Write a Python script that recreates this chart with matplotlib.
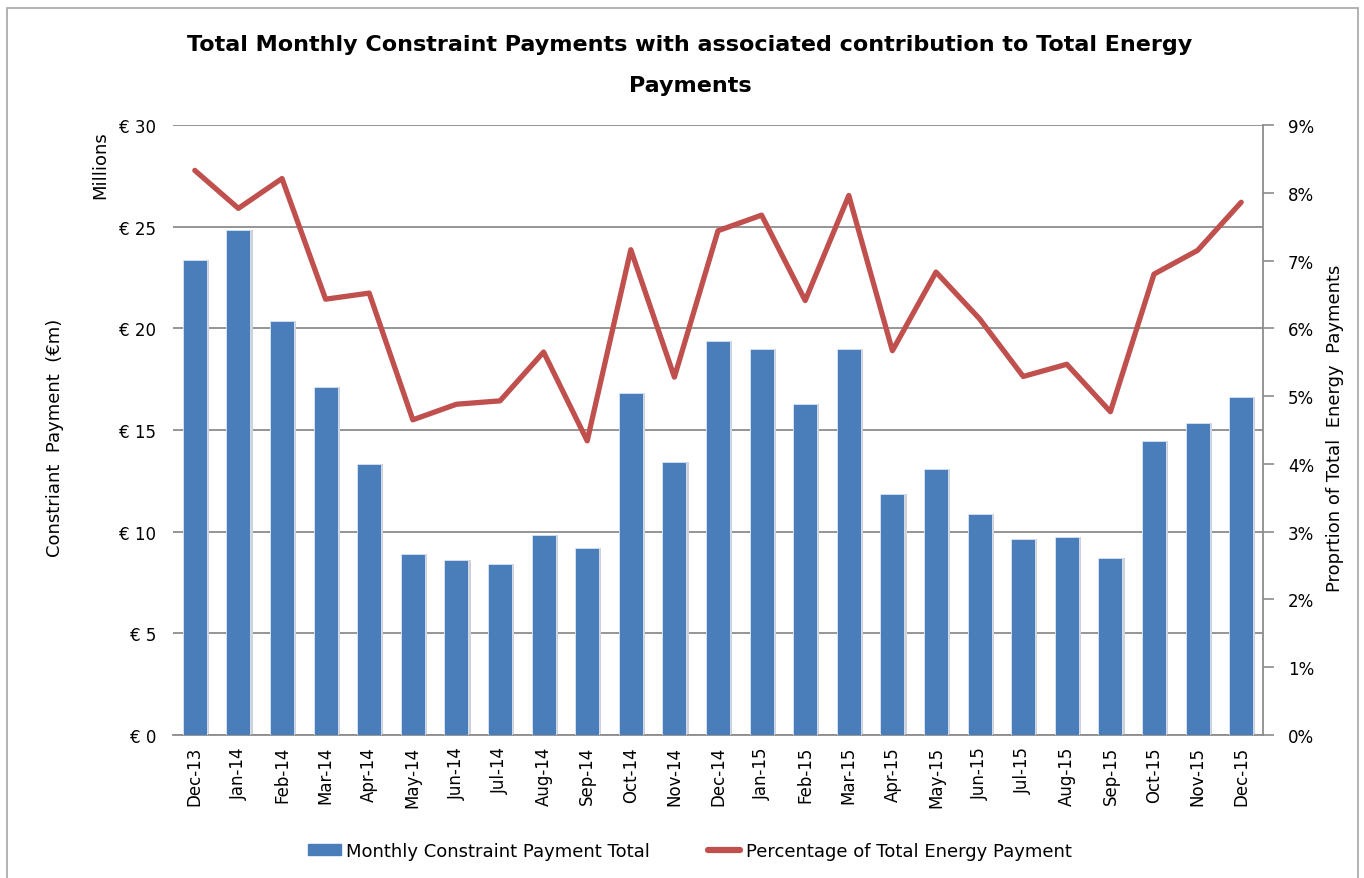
import matplotlib
matplotlib.use("Agg")
import matplotlib.pyplot as plt
import matplotlib.patches as mpatches
from matplotlib.lines import Line2D
import numpy as np

# Data
months = ["Dec-13", "Jan-14", "Feb-14", "Mar-14", "Apr-14", "May-14", "Jun-14",
          "Jul-14", "Aug-14", "Sep-14", "Oct-14", "Nov-14", "Dec-14", "Jan-15",
          "Feb-15", "Mar-15", "Apr-15", "May-15", "Jun-15", "Jul-15", "Aug-15",
          "Sep-15", "Oct-15", "Nov-15", "Dec-15"]
payments = [23.34, 24.85, 20.34, 17.11, 13.34, 8.91, 8.61, 8.43, 9.84, 9.19,
            16.83, 13.43, 19.39, 19.0, 16.26, 19.0, 11.83, 13.06, 10.88, 9.65,
            9.74, 8.70, 14.47, 15.34, 16.63]
pct_energy = [8.33, 7.77, 8.21, 6.43, 6.52, 4.65, 4.88, 4.93, 5.65, 4.34,
              7.16, 5.28, 7.44, 7.67, 6.41, 7.96, 5.67, 6.83, 6.14, 5.29,
              5.47, 4.77, 6.80, 7.15, 7.86]
left_ticks = [0, 5, 10, 15, 20, 25, 30]
right_ticks = list(range(10))

bar_color = "#4A7EBB"
line_color = "#C0504D"
grid_color = "#8C8C8C"

plt.rcParams['font.family'] = ['DejaVu Sans']

fig = plt.figure(figsize=(13.64, 8.79), dpi=100)
ax = fig.add_axes([173 / 1364, 1 - 736 / 879, (1263 - 173) / 1364, (736 - 126) / 879])

# Outer chart border
fig.patches.append(mpatches.Rectangle((7 / 1364, -0.01), 1351 / 1364, 1 - 9 / 879 + 0.01,
                                      transform=fig.transFigure, fill=False,
                                      edgecolor="#A6A6A6", linewidth=1.2))

x = np.arange(len(months))

# Bars with a light drop shadow
ax.bar(x + 0.05, payments, width=0.55, color="#D0D0D8", zorder=2)
ax.bar(x, payments, width=0.55, color=bar_color, edgecolor="#DDE6F2",
       linewidth=0.6, zorder=3)

ax.set_xlim(-0.5, len(months) - 0.5)
ax.set_ylim(0, 30)
ax.set_yticks(left_ticks)
ax.set_yticklabels([f"€ {v}" for v in left_ticks], fontsize=12)
ax.tick_params(axis="y", length=0, pad=12)
ax.yaxis.grid(True, color=grid_color, linewidth=1.3, zorder=1)
ax.set_axisbelow(True)

ax.set_xticks(x)
ax.set_xticklabels(months, rotation=90, fontsize=12)
ax.tick_params(axis="x", length=0, pad=8)

for side in ["top", "left", "right"]:
    ax.spines[side].set_visible(False)
ax.spines["bottom"].set_color(grid_color)
ax.spines["bottom"].set_linewidth(1.3)

fig.text(55 / 1364, 1 - 438 / 879, "Constriant  Payment  (€m)", rotation=90,
         fontsize=13, ha="center", va="center")
fig.text(100 / 1364, 1 - 165 / 879, "Millions", rotation=90, fontsize=13,
         ha="center", va="center")

# Secondary axis for percentage line
ax2 = ax.twinx()
ax2.plot(x, pct_energy, color=line_color, linewidth=3.8, solid_joinstyle="round",
         solid_capstyle="round", zorder=4)
ax2.set_ylim(0, 9)
ax2.set_yticks(right_ticks)
ax2.set_yticklabels([f"{v}%" for v in right_ticks], fontsize=12)
ax2.tick_params(axis="y", direction="out", length=8, width=1.2, color=grid_color, pad=10)
for side in ["top", "left", "bottom"]:
    ax2.spines[side].set_visible(False)
ax2.spines["right"].set_color(grid_color)
ax2.spines["right"].set_linewidth(1.3)
fig.text(1335 / 1364, 1 - 428 / 879, "Proprtion of Total  Energy  Payments", rotation=90,
         fontsize=13, ha="center", va="center")

fig.text(690 / 1364, 1 - 45 / 879,
         "Total Monthly Constraint Payments with associated contribution to Total Energy",
         fontsize=16, fontweight="bold", ha="center", va="center")
fig.text(690 / 1364, 1 - 86 / 879, "Payments",
         fontsize=16, fontweight="bold", ha="center", va="center")

handles = [mpatches.Patch(color=bar_color, label="Monthly Constraint Payment Total"),
           Line2D([0], [0], color=line_color, linewidth=4.5, solid_capstyle="round",
                  label="Percentage of Total Energy Payment")]
fig.legend(handles=handles, loc="center", bbox_to_anchor=(690 / 1364, 1 - 852 / 879),
           ncol=2, frameon=False, fontsize=13, handlelength=1.8, handleheight=0.6,
           columnspacing=3.2, handletextpad=0.3)

fig.savefig("out.png", dpi=100)
